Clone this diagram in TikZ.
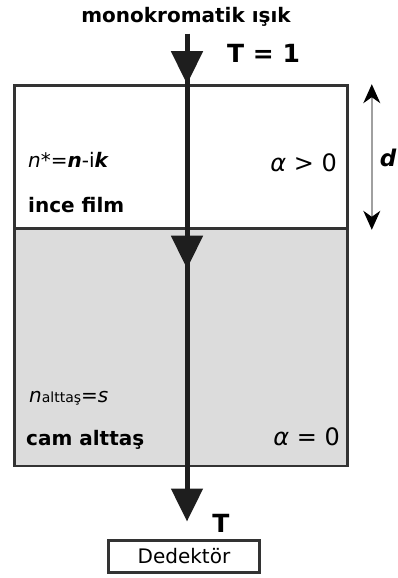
\documentclass[tikz,border=0pt]{standalone}
\usepackage{fontspec}
\setmainfont{DejaVu Sans}
\usepackage{xcolor}
\usetikzlibrary{positioning, arrows.meta, calc}
\definecolor{BoxLine}{RGB}{51,51,51}
\definecolor{GlassGrey}{RGB}{220,220,220}
\definecolor{BeamBlack}{RGB}{30,30,30}
\definecolor{RulerGrey}{RGB}{160,160,160}
\tikzset{
  layer/.style={draw=BoxLine, line width=2.6pt, minimum width=333pt, inner sep=0pt},
  beam/.style={-{Triangle[length=33pt, width=31pt]}, line width=5pt, BeamBlack},
  ruler/.style={{Stealth[length=19pt, width=17pt, inset=6pt, black]}-{Stealth[length=19pt, width=17pt, inset=6pt, black]},
    line width=1.4pt, RulerGrey},
  lbl/.style={font=\fontsize{20}{22}\selectfont\bfseries, inner sep=0pt},
  formula/.style={font=\fontsize{20}{22}\selectfont, inner sep=0pt},
  alph/.style={font=\fontsize{24}{26}\selectfont, inner sep=0pt, anchor=base east},
  tlab/.style={font=\fontsize{25}{27}\selectfont\bfseries, inner sep=0pt},
}

\begin{document}
\begin{tikzpicture}[x=1pt, y=-1pt]
  \useasboundingbox (0,0) rectangle (398,578);
  % layers
  \node[layer, fill=GlassGrey, minimum height=238pt] (sub) at (181,347) {};
  \node[layer, fill=white, minimum height=143pt] (film) at (181,157) {};
  \node[draw=BoxLine, line width=3pt, minimum width=151pt, minimum height=32pt, inner sep=0pt,
    font=\fontsize{20}{22}\selectfont] (det) at (184,556) {Dedektör};

  % light path
  \node[lbl] (light) at (186,17) {monokromatik ışık};
  \coordinate (src) at (187,34);
  \draw[beam] (src) -- (src |- film.north);
  \draw[beam] (src) -- ($(src |- sub.north)+(0,42)$);
  \draw[beam] (src) -- ($(src |- det.north)+(0,-17)$);

  % thickness
  \draw[ruler] ([xshift=23pt]film.north east) -- ([xshift=23pt]film.south east);
  \node[font=\fontsize{23}{25}\selectfont\bfseries\itshape, inner sep=0pt] (d) at (388,158) {d};

  % labels
  \node[tlab, anchor=base west] (t1) at (227,63) {T = 1};
  \node[tlab, anchor=base] (t2) at (221,532) {T};
  \node[formula, anchor=base west] (nfilm) at (28,167)
    {\textit{n}*=\textbf{\textit{n}}-i\textbf{\textit{k}}};
  \node[lbl, anchor=base west] (film lbl) at (28,212) {ince film};
  \node[alph] (a1) at (337,171) {\textit{α} > 0};
  \node[formula, anchor=base west] (nsub) at (29,402)
    {\textit{n}{\fontsize{14}{16}\selectfont alttaş}=\textit{s}};
  \node[lbl, anchor=base west] (sub lbl) at (26,445) {cam alttaş};
  \node[alph] (a2) at (340,445) {\textit{α} = 0};
\end{tikzpicture}
\end{document}
